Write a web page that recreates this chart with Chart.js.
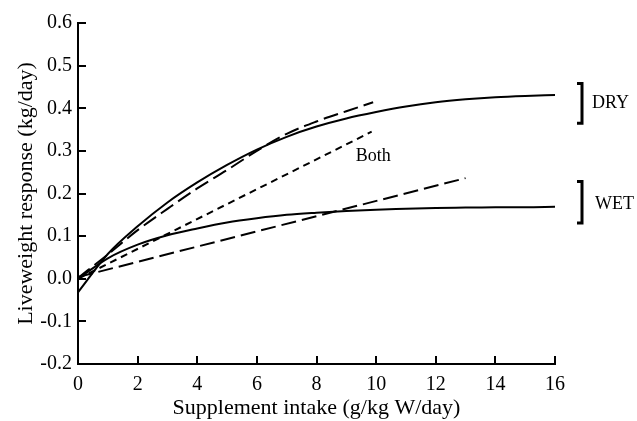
<!DOCTYPE html>
<html>
<head>
<meta charset="utf-8">
<script src="https://cdn.jsdelivr.net/npm/chart.js@4.4.1/dist/chart.umd.min.js"></script>
<style>
  html, body { margin: 0; padding: 0; background: #fff; }
  #c { display: block; }
</style>
</head>
<body>
<canvas id="c" width="637" height="421"></canvas>
<script>
// ---- data ----
const xFit = [0, 1, 2, 3, 4, 5, 6, 7, 8, 9, 10, 11, 12, 13, 14, 15, 16];
const dryFit = [-0.032, 0.058, 0.123, 0.179, 0.226, 0.267, 0.303, 0.333, 0.357, 0.376, 0.391, 0.404, 0.414, 0.421, 0.426, 0.429, 0.431];
const wetFit = [0.000, 0.048, 0.080, 0.102, 0.118, 0.132, 0.142, 0.150, 0.155, 0.159, 0.162, 0.164, 0.166, 0.167, 0.168, 0.168, 0.169];
const xDryDash = [0, 1, 2, 3, 4, 5, 6, 7, 8, 9, 9.9];
const dryDash = [0.002, 0.057, 0.114, 0.164, 0.212, 0.255, 0.300, 0.340, 0.369, 0.393, 0.414];
const xBoth = [0, 9.85];
const bothLine = [0.000, 0.345];
const xWetDash = [0, 13];
const wetDash = [0.004, 0.236];
const xTicks = [0, 2, 4, 6, 8, 10, 12, 14, 16];
const yTicks = [-0.2, -0.1, 0.0, 0.1, 0.2, 0.3, 0.4, 0.5, 0.6];
const groupLabels = ['DRY', 'WET'];
const bothLabel = 'Both';
const xTitle = 'Supplement intake (g/kg W/day)';
const yTitle = 'Liveweight response (kg/day)';

const pts = (xs, ys) => xs.map((x, i) => ({ x: x, y: ys[i] }));
const FONT = "'Liberation Serif', 'Times New Roman', serif";

const decor = {
  id: 'decor',
  afterDraw(chart) {
    const ctx = chart.ctx;
    const xs = chart.scales.x, ys = chart.scales.y;
    const L = 8;
    ctx.save();
    ctx.strokeStyle = '#000';
    ctx.lineWidth = 2;
    ctx.beginPath();
    xTicks.forEach(v => {
      if (v === xs.min) return;
      const px = Math.round(xs.getPixelForValue(v));
      ctx.moveTo(px, ys.bottom); ctx.lineTo(px, ys.bottom - L);
    });
    yTicks.forEach(v => {
      if (v === ys.min) return;
      const py = Math.round(ys.getPixelForValue(v));
      ctx.moveTo(xs.left, py); ctx.lineTo(xs.left + L, py);
    });
    ctx.stroke();

    // brackets
    const bx = chart.chartArea.right + 27;
    const drawBracket = (top, bot) => {
      const t = ys.getPixelForValue(top), b = ys.getPixelForValue(bot);
      ctx.lineWidth = 3;
      ctx.beginPath();
      ctx.moveTo(bx - 5, t); ctx.lineTo(bx, t); ctx.lineTo(bx, b); ctx.lineTo(bx - 5, b);
      ctx.stroke();
      return (t + b) / 2;
    };
    const dryMid = drawBracket(0.458, 0.365);
    const wetMid = drawBracket(0.228, 0.131);
    ctx.fillStyle = '#000';
    ctx.font = "18px " + FONT;
    ctx.textAlign = 'left';
    ctx.textBaseline = 'middle';
    ctx.fillText(groupLabels[0], bx + 10, dryMid);
    ctx.fillText(groupLabels[1], bx + 13, wetMid + 2);
    ctx.textAlign = 'center';
    ctx.fillText(bothLabel, xs.getPixelForValue(9.9), ys.getPixelForValue(0.288));
    ctx.restore();
  }
};

new Chart(document.getElementById('c'), {
  type: 'line',
  data: {
    datasets: [
      { data: pts(xFit, dryFit), borderColor: '#000', borderWidth: 2, pointRadius: 0, cubicInterpolationMode: 'monotone', fill: false },
      { data: pts(xFit, wetFit), borderColor: '#000', borderWidth: 2, pointRadius: 0, cubicInterpolationMode: 'monotone', fill: false },
      { data: pts(xDryDash, dryDash), borderColor: '#000', borderWidth: 2, borderDash: [15, 6], pointRadius: 0, cubicInterpolationMode: 'monotone', fill: false },
      { data: pts(xBoth, bothLine), borderColor: '#000', borderWidth: 2, borderDash: [7, 5], pointRadius: 0, tension: 0, fill: false },
      { data: pts(xWetDash, wetDash), borderColor: '#000', borderWidth: 2, borderDash: [15, 6], pointRadius: 0, tension: 0, fill: false }
    ]
  },
  options: {
    responsive: false,
    devicePixelRatio: 1,
    animation: false,
    layout: { padding: { left: 0, right: 82, top: 23, bottom: 0 } },
    plugins: { legend: { display: false }, tooltip: { enabled: false } },
    scales: {
      x: {
        type: 'linear', min: 0, max: 16,
        afterFit(s) { s.height = 57; },
        afterBuildTicks(s) { s.ticks = xTicks.map(v => ({ value: v })); },
        grid: { display: false, drawTicks: false },
        border: { display: true, color: '#000', width: 2 },
        ticks: { color: '#000', font: { family: FONT, size: 20 }, padding: 9, maxRotation: 0, autoSkip: false },
        title: { display: true, text: xTitle, color: '#000', font: { family: FONT, size: 22 }, padding: { top: 0, bottom: 0 } }
      },
      y: {
        type: 'linear', min: -0.2, max: 0.6,
        afterFit(s) { s.width = 78; },
        afterBuildTicks(s) { s.ticks = yTicks.map(v => ({ value: v })); },
        grid: { display: false, drawTicks: false },
        border: { display: true, color: '#000', width: 2 },
        ticks: { color: '#000', font: { family: FONT, size: 20 }, padding: 6, autoSkip: false, callback: v => Number(v).toFixed(1) },
        title: { display: true, text: yTitle, color: '#000', font: { family: FONT, size: 22 }, padding: { top: 13, bottom: 0 } }
      }
    }
  },
  plugins: [decor]
});
</script>
</body>
</html>
